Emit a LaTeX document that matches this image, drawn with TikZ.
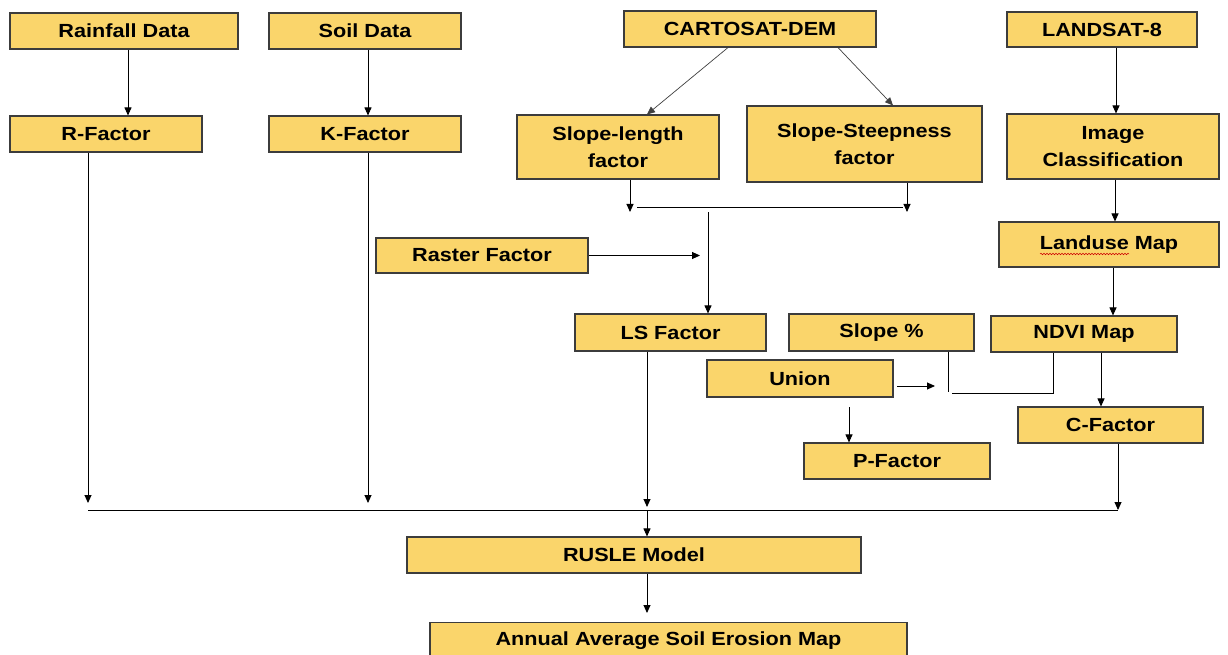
\documentclass[tikz,border=0pt]{standalone}
\usepackage{fontspec}
\setmainfont{Liberation Sans}[FakeStretch=1.14]
\usetikzlibrary{arrows.meta,decorations.pathmorphing}
\definecolor{boxfill}{RGB}{250,213,107}
\definecolor{boxline}{RGB}{60,60,60}
\begin{document}
\begin{tikzpicture}[x=1pt,y=-1pt,
  box/.style={draw=boxline, line width=1.1pt, fill=boxfill, inner sep=0pt, align=center,
    font=\fontsize{19}{27}\selectfont\bfseries},
  arr/.style={draw=black, line width=0.9pt, -{Triangle[length=8pt,width=7pt]}},
  wire/.style={draw=black, line width=0.9pt}]
\useasboundingbox (0,0) rectangle (1228,655);
\fill[white] (0,0) rectangle (1228,655);

% nodes
\node[box, minimum width=228, minimum height=36] (rain) at (124,31) {Rainfall Data};
\node[box, minimum width=192, minimum height=36] (soil) at (365,31) {Soil Data};
\node[box, minimum width=252, minimum height=36] (carto) at (750,29) {CARTOSAT-DEM};
\node[box, minimum width=190, minimum height=35] (landsat) at (1102,29.5) {LANDSAT-8};
\node[box, minimum width=192, minimum height=36] (rfac) at (106,134) {R-Factor};
\node[box, minimum width=192, minimum height=36] (kfac) at (365,134) {K-Factor};
\node[box, minimum width=202, minimum height=64] (slen) at (618,147) {Slope-length\\factor};
\node[box, minimum width=235, minimum height=76] (ssteep) at (864.5,144) {Slope-Steepness\\factor};
\node[box, minimum width=212, minimum height=65] (imgcls) at (1113,146.5) {Image\\Classification};
\node[box, minimum width=220, minimum height=45] (landuse) at (1109,244.5) {Landuse Map};
\node[box, minimum width=212, minimum height=35] (raster) at (482,255.5) {Raster Factor};
\node[box, minimum width=191, minimum height=37] (ls) at (670.5,332.5) {LS Factor};
\node[box, minimum width=185, minimum height=37] (slope) at (881.5,332.5) {Slope \%};
\node[box, minimum width=186, minimum height=36] (ndvi) at (1084,334) {NDVI Map};
\node[box, minimum width=186, minimum height=37] (union) at (800,378.5) {Union};
\node[box, minimum width=185, minimum height=36] (cfac) at (1110.5,425) {C-Factor};
\node[box, minimum width=186, minimum height=36] (pfac) at (897,461) {P-Factor};
\node[box, minimum width=454, minimum height=36] (rusle) at (634,555) {RUSLE Model};
\node[box, minimum width=477, minimum height=36, anchor=north] (annual) at (668.5,622) {Annual Average Soil Erosion Map};

% spell-check squiggle
\draw[red!80!black, line width=0.5pt, decorate, decoration={snake, amplitude=0.8pt, segment length=3pt}]
  (1040,254) -- (1129,254);

% helper coordinates
\coordinate (xr) at (128,0);
\coordinate (xk) at (368,0);
\coordinate (ca) at (728,0);
\coordinate (cb) at (647,0);
\coordinate (cc) at (838,0);
\coordinate (cd) at (893,0);
\coordinate (xsl) at (630,0);
\coordinate (xst) at (907,0);
\coordinate (jl) at (630,212);
\coordinate (jr) at (907,212);
\coordinate (h1) at (637,207);
\coordinate (h2) at (903,207);
\coordinate (jm) at (708,212);
\coordinate (rt) at (700,255.5);
\coordinate (xR) at (88,0);
\coordinate (xLS) at (647,0);
\coordinate (xC) at (1118,0);
\coordinate (b1) at (88,503);
\coordinate (b2) at (368,503);
\coordinate (b3) at (647,507);
\coordinate (b3m) at (647,510);
\coordinate (b4) at (1118,510);
\coordinate (bl) at (88,510);
\coordinate (br) at (1118,510);
\coordinate (at) at (647,613);
\coordinate (xL1) at (1116,0);
\coordinate (xL2) at (1115,0);
\coordinate (xL3) at (1113,0);
\coordinate (xN) at (1101,0);
\coordinate (n1) at (1053,393);
\coordinate (n2) at (952,393);
\coordinate (s1) at (948,392);
\coordinate (u1) at (897,386);
\coordinate (u2) at (935,386);
\coordinate (u3) at (849,407);

% connectors
\draw[arr] (rain.south -| xr) -- (rfac.north -| xr);
\draw[arr] (soil.south -| xk) -- (kfac.north -| xk);
\draw[arr, line width=0.7pt, draw=black!75] (carto.south -| ca) -- (slen.north -| cb);
\draw[arr, line width=0.7pt, draw=black!75] (carto.south -| cc) -- (ssteep.north -| cd);
\draw[arr] (slen.south -| xsl) -- (jl);
\draw[arr] (ssteep.south -| xst) -- (jr);
\draw[wire] (h1) -- (h2);
\draw[arr] (jm) -- (ls.north -| jm);
\draw[arr] (raster.east) -- (rt);
\draw[arr] (rfac.south -| xR) -- (b1);
\draw[arr] (kfac.south -| xk) -- (b2);
\draw[arr] (ls.south -| xLS) -- (b3);
\draw[arr] (cfac.south -| xC) -- (b4);
\draw[wire] (bl) -- (br);
\draw[arr] (b3m) -- (rusle.north -| b3m);
\draw[arr] (rusle.south -| xLS) -- (at);
\draw[arr] (landsat.south -| xL1) -- (imgcls.north -| xL1);
\draw[arr] (imgcls.south -| xL2) -- (landuse.north -| xL2);
\draw[arr] (landuse.south -| xL3) -- (ndvi.north -| xL3);
\draw[arr] (ndvi.south -| xN) -- (cfac.north -| xN);
\draw[wire] (ndvi.south -| n1) -- (n1) -- (n2);
\draw[wire] (slope.south -| s1) -- (s1);
\draw[arr] (u1) -- (u2);
\draw[arr] (u3) -- (pfac.north -| u3);
\end{tikzpicture}
\end{document}
